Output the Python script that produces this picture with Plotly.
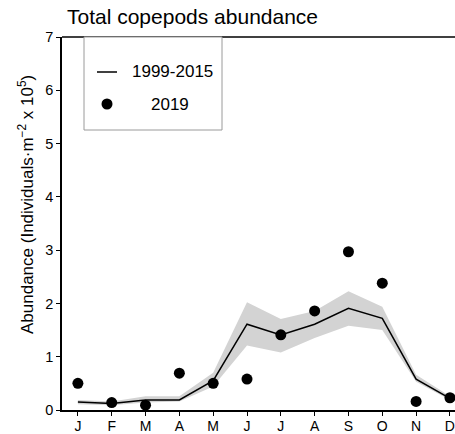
import plotly.graph_objects as go

months = ["J", "F", "M", "A", "M", "J", "J", "A", "S", "O", "N", "D"]
month_idx = list(range(1, 13))
mean_1999_2015 = [0.15, 0.12, 0.19, 0.19, 0.55, 1.61, 1.41, 1.61, 1.91, 1.72, 0.58, 0.22]
upper_1999_2015 = [0.19, 0.16, 0.26, 0.26, 0.70, 2.02, 1.71, 1.86, 2.23, 1.94, 0.66, 0.26]
lower_1999_2015 = [0.11, 0.09, 0.14, 0.16, 0.44, 1.21, 1.08, 1.35, 1.58, 1.50, 0.53, 0.19]
obs_2019 = [0.50, 0.14, 0.09, 0.69, 0.50, 0.58, 1.41, 1.86, 2.97, 2.38, 0.16, 0.23]

FONT = "Liberation Sans, Arial, sans-serif"

fig = go.Figure()
fig.add_trace(go.Scatter(x=month_idx, y=lower_1999_2015, mode="lines",
                         line=dict(width=0), showlegend=False, hoverinfo="skip"))
fig.add_trace(go.Scatter(x=month_idx, y=upper_1999_2015, mode="lines",
                         line=dict(width=0), fill="tonexty", fillcolor="#d3d3d3",
                         showlegend=False, hoverinfo="skip"))
fig.add_trace(go.Scatter(x=month_idx, y=mean_1999_2015, mode="lines",
                         line=dict(color="black", width=1.5), name="1999-2015",
                         showlegend=False))
fig.add_trace(go.Scatter(x=month_idx, y=obs_2019, mode="markers",
                         marker=dict(color="black", size=11), name="2019",
                         showlegend=False, cliponaxis=False))

W, H = 455, 434
l, r, t, b = 62, 0, 37, 24
pw, ph = W - l - r, H - t - b
def px(xp):
    return (xp - l) / pw
def py(yp):
    return (H - b - yp) / ph

shapes = [
    dict(type="line", xref="paper", yref="paper", x0=0, x1=1, y0=1, y1=1,
         line=dict(color="black", width=1.5)),
    dict(type="rect", xref="paper", yref="paper", x0=px(84), x1=px(222),
         y0=py(130), y1=py(37), line=dict(color="#9a9a9a", width=1),
         fillcolor="white", layer="above"),
    dict(type="line", xref="paper", yref="paper", x0=px(97), x1=px(117),
         y0=py(72), y1=py(72), line=dict(color="black", width=1.5), layer="above"),
    dict(type="circle", xref="paper", yref="paper", x0=px(101.5), x1=px(112.5),
         y0=py(109.5), y1=py(98.5), line=dict(color="black", width=0),
         fillcolor="black", layer="above"),
]
annotations = [
    dict(text="1999-2015", xref="paper", yref="paper", x=px(130), y=py(72),
         xanchor="left", yanchor="middle", showarrow=False,
         font=dict(size=17, color="black", family=FONT)),
    dict(text="2019", xref="paper", yref="paper", x=px(170), y=py(104),
         xanchor="center", yanchor="middle", showarrow=False,
         font=dict(size=17, color="black", family=FONT)),
    dict(text="Abundance (Individuals·m<sup>−2</sup> x 10<sup>5</sup>)",
         xref="paper", yref="paper", x=px(26), y=py(205),
         xanchor="center", yanchor="middle", textangle=-90, showarrow=False,
         font=dict(size=17, color="black", family=FONT)),
    dict(text="Total copepods abundance", xref="paper", yref="paper",
         x=px(65), y=py(17), xanchor="left", yanchor="middle", showarrow=False,
         font=dict(size=21, color="black", family=FONT)),
]

fig.update_layout(
    width=W, height=H,
    margin=dict(l=l, r=r, t=t, b=b, autoexpand=False),
    paper_bgcolor="white", plot_bgcolor="white",
    font=dict(family=FONT, color="black", size=14),
    shapes=shapes, annotations=annotations,
    showlegend=False,
    xaxis=dict(range=[0.53, 12.15], tickmode="array", tickvals=month_idx, ticktext=months,
               showgrid=False, zeroline=False, showline=True, linecolor="black",
               linewidth=1.5, ticks="outside", ticklen=4, tickcolor="black",
               tickfont=dict(size=14), automargin=False, ticklabeloverflow="allow",
               ticklabelstandoff=-2),
    yaxis=dict(range=[0, 7], tickvals=[0, 1, 2, 3, 4, 5, 6, 7], showgrid=False,
               zeroline=False, showline=True, linecolor="black", linewidth=1.5,
               ticks="outside", ticklen=4, tickcolor="black", tickfont=dict(size=14.5),
               automargin=False, ticklabeloverflow="allow"),
)

fig.write_html("out.html", config={"displayModeBar": False},
               post_script="document.body.style.margin='0';document.body.style.overflow='hidden';")
